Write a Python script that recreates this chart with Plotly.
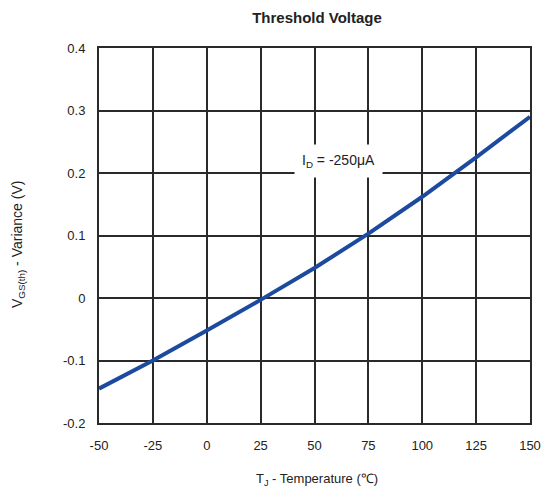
import plotly.graph_objects as go

temps = [-50, -25, 0, 25, 50, 75, 100, 125, 150]
variance = [-0.145, -0.1, -0.052, -0.003, 0.048, 0.103, 0.162, 0.225, 0.29]
x_ticks = [-50, -25, 0, 25, 50, 75, 100, 125, 150]
x_labels = ["-50", "-25", "0", "25", "50", "75", "100", "125", "150"]
y_ticks = [-0.2, -0.1, 0, 0.1, 0.2, 0.3, 0.4]
y_labels = ["-0.2", "-0.1", "0", "0.1", "0.2", "0.3", "0.4"]

FONT = "Liberation Sans, Arial"
W, H = 544, 492
L, R, T, B = 99, 14, 48, 69

fig = go.Figure()
fig.add_trace(go.Scatter(x=temps, y=variance, mode="lines",
                         line=dict(color="#1c4a9e", width=4), showlegend=False))

axis_common = dict(showgrid=True, gridcolor="#2a2a2a", gridwidth=2,
                   showline=True, linecolor="#2a2a2a", linewidth=2, mirror=True,
                   zeroline=False, ticks="", automargin=False, ticklabelstandoff=9,
                   tickfont=dict(family=FONT, size=13, color="#222"))

fig.update_xaxes(range=[-50, 150], tickvals=x_ticks, ticktext=x_labels, **axis_common)
fig.update_yaxes(range=[-0.2, 0.4], tickvals=y_ticks, ticktext=y_labels, **axis_common)

fig.add_annotation(x=61, y=0.219, text="I<sub>D</sub> = -250μA", showarrow=False,
                   font=dict(family=FONT, size=14, color="#222"),
                   bgcolor="white", borderpad=7)

# axis titles
fig.add_annotation(xref="paper", yref="paper", x=(317 - L) / (W - L - R), y=-(479 - (H - B)) / (H - T - B),
                   text="T<sub>J</sub> - Temperature (℃)", showarrow=False, yanchor="middle",
                   font=dict(family=FONT, size=13, color="#222"))
fig.add_annotation(xref="paper", yref="paper", x=-(L - 18) / (W - L - R), y=((H - B) - 245) / (H - T - B),
                   text="V<sub>GS(th)</sub> - Variance (V)", showarrow=False, textangle=-90,
                   xanchor="center", yanchor="middle",
                   font=dict(family=FONT, size=14, color="#222"))

fig.update_layout(
    width=W, height=H,
    margin=dict(l=L, r=R, t=T, b=B, autoexpand=False),
    paper_bgcolor="white", plot_bgcolor="white",
    title=dict(text="<b>Threshold Voltage</b>", x=317 / W, xanchor="center", y=1 - 18 / H, yanchor="middle",
               font=dict(family=FONT, size=15, color="#222")),
)

fig.write_html("out.html")
